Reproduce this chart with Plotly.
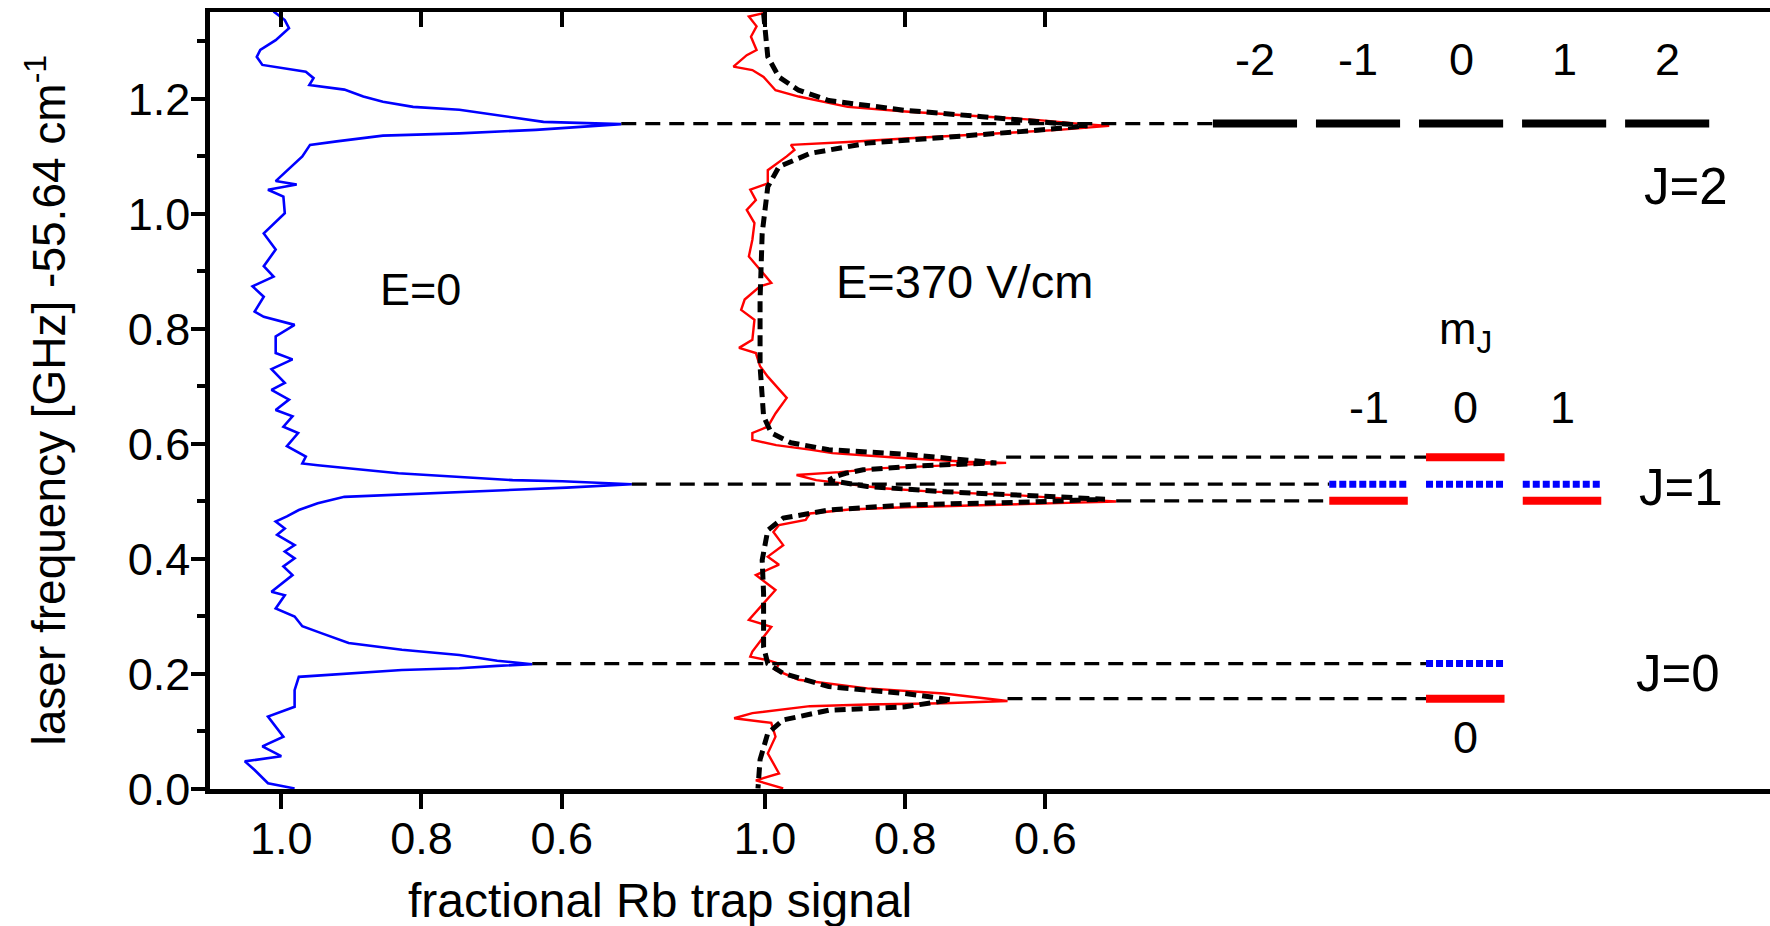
import plotly.graph_objects as go

# ---- measured traces: laser frequency (GHz above 55.64 cm^-1) vs fractional Rb trap signal ----
# E = 0
blue_ghz = [1.352, 1.337, 1.323, 1.302, 1.285, 1.273, 1.259, 1.253, 1.247, 1.236, 1.224, 1.216,
            1.204, 1.195, 1.186, 1.181, 1.169, 1.160, 1.156, 1.146, 1.140, 1.136, 1.126, 1.120,
            1.100, 1.088, 1.071, 1.057, 1.051, 1.042, 1.030, 1.001, 0.966, 0.938, 0.909, 0.891,
            0.874, 0.856, 0.830, 0.821, 0.807, 0.787, 0.758, 0.747, 0.730, 0.706, 0.694, 0.677,
            0.659, 0.648, 0.630, 0.619, 0.596, 0.578, 0.566, 0.563, 0.549, 0.543, 0.537, 0.535,
            0.530, 0.524, 0.519, 0.514, 0.508, 0.497, 0.485, 0.474, 0.465, 0.453, 0.442, 0.424,
            0.413, 0.401, 0.387, 0.372, 0.343, 0.337, 0.314, 0.300, 0.283, 0.271, 0.254, 0.242,
            0.233, 0.223, 0.217, 0.214, 0.210, 0.207, 0.201, 0.195, 0.172, 0.143, 0.126, 0.091,
            0.074, 0.057, 0.048, 0.033, 0.010, 0.001]
blue_sig = [1.011, 0.995, 0.989, 1.008, 1.030, 1.035, 1.027, 0.997, 0.965, 0.954, 0.960, 0.910,
            0.883, 0.855, 0.812, 0.746, 0.675, 0.626, 0.515, 0.637, 0.746, 0.855, 0.921, 0.959,
            0.970, 0.981, 0.995, 1.008, 0.978, 1.019, 0.997, 0.995, 1.025, 1.008, 1.025, 1.011,
            1.041, 1.025, 1.038, 1.025, 0.981, 1.008, 1.008, 0.984, 1.014, 0.995, 1.014, 0.989,
            1.008, 0.984, 0.997, 0.976, 0.992, 0.965, 0.970, 0.948, 0.833, 0.746, 0.670, 0.599,
            0.500, 0.593, 0.692, 0.801, 0.910, 0.948, 0.975, 0.992, 1.008, 0.995, 1.006, 0.981,
            0.995, 0.981, 0.997, 0.984, 1.014, 0.995, 1.008, 0.981, 0.970, 0.943, 0.904, 0.828,
            0.746, 0.692, 0.642, 0.692, 0.746, 0.828, 0.910, 0.975, 0.981, 0.981, 1.019, 0.997,
            1.027, 1.000, 1.052, 1.038, 1.019, 0.981]

# E = 370 V/cm
red_ghz = [1.349, 1.343, 1.326, 1.308, 1.285, 1.276, 1.256, 1.250, 1.238, 1.215, 1.204, 1.186,
           1.178, 1.169, 1.163, 1.157, 1.153, 1.146, 1.139, 1.131, 1.125, 1.120, 1.111, 1.100,
           1.076, 1.053, 1.042, 1.024, 1.007, 0.984, 0.955, 0.926, 0.880, 0.874, 0.851, 0.833,
           0.816, 0.781, 0.767, 0.758, 0.735, 0.717, 0.680, 0.653, 0.630, 0.619, 0.607, 0.598,
           0.590, 0.584, 0.576, 0.569, 0.567, 0.563, 0.558, 0.551, 0.546, 0.537, 0.523, 0.517,
           0.511, 0.504, 0.500, 0.497, 0.494, 0.490, 0.486, 0.479, 0.468, 0.459, 0.447, 0.424,
           0.404, 0.390, 0.372, 0.346, 0.294, 0.282, 0.239, 0.230, 0.224, 0.218, 0.207, 0.190,
           0.175, 0.166, 0.153, 0.149, 0.147, 0.144, 0.132, 0.123, 0.115, 0.091, 0.062, 0.027,
           0.015, 0.001]
red_sig = [1.002, 1.023, 1.012, 1.020, 1.012, 1.026, 1.045, 1.018, 1.002, 0.985, 0.952, 0.882,
           0.800, 0.690, 0.609, 0.554, 0.509, 0.581, 0.690, 0.800, 0.882, 0.963, 0.958, 0.969,
           0.996, 0.996, 1.021, 1.013, 1.026, 1.015, 1.018, 1.023, 0.991, 1.007, 1.029, 1.034,
           1.015, 1.018, 1.037, 1.013, 1.007, 0.996, 0.969, 0.985, 0.996, 1.018, 1.018, 0.984,
           0.936, 0.904, 0.810, 0.713, 0.656, 0.737, 0.832, 0.894, 0.955, 0.927, 0.832, 0.761,
           0.642, 0.560, 0.499, 0.582, 0.690, 0.800, 0.880, 0.936, 0.942, 0.980, 0.988, 0.974,
           0.996, 0.980, 1.013, 0.985, 1.023, 0.991, 1.018, 1.021, 0.996, 0.980, 0.985, 0.952,
           0.854, 0.745, 0.654, 0.745, 0.854, 0.936, 1.018, 1.044, 0.991, 0.985, 0.996, 0.980,
           1.013, 0.974]

# Lorentzian fit to the E = 370 V/cm spectrum
fit_ghz = [1.349, 1.314, 1.273, 1.238, 1.215, 1.197, 1.180, 1.169, 1.160, 1.153, 1.143, 1.134,
           1.123, 1.105, 1.082, 1.047, 0.966, 0.851, 0.735, 0.648, 0.619, 0.602, 0.590, 0.582,
           0.574, 0.567, 0.562, 0.555, 0.549, 0.543, 0.537, 0.526, 0.517, 0.511, 0.504, 0.499,
           0.494, 0.485, 0.471, 0.450, 0.398, 0.340, 0.247, 0.218, 0.201, 0.178, 0.166, 0.155,
           0.143, 0.137, 0.120, 0.097, 0.051, 0.001]
fit_sig = [1.002, 1.000, 0.996, 0.980, 0.952, 0.909, 0.800, 0.690, 0.609, 0.540, 0.636, 0.745,
           0.854, 0.936, 0.980, 0.996, 1.004, 1.007, 1.007, 1.002, 0.991, 0.963, 0.909, 0.800,
           0.720, 0.670, 0.780, 0.860, 0.885, 0.900, 0.909, 0.854, 0.745, 0.636, 0.515, 0.620,
           0.800, 0.909, 0.974, 0.996, 1.004, 1.002, 1.002, 0.996, 0.974, 0.909, 0.800, 0.734,
           0.800, 0.909, 0.974, 0.996, 1.007, 1.010]

# ---- energy levels (GHz) ----
j2_mj = [-2, -1, 0, 1, 2]
j2_ghz = [1.157, 1.157, 1.157, 1.157, 1.157]
j1_mj = [-1, 0, 1]
j1_e0_ghz = [0.530, 0.530, 0.530]
j1_e370_ghz = [0.501, 0.577, 0.501]
j0_mj = [0]
j0_e0_ghz = [0.218]
j0_e370_ghz = [0.157]

freq_ticks = [0.0, 0.2, 0.4, 0.6, 0.8, 1.0, 1.2]
signal_ticks = [1.0, 0.8, 0.6]

# ---- horizontal layout of the composite x axis ----
E370_OFFSET = 0.69          # shift of the E = 370 V/cm panel
J2_X0, J2_STEP, J2_HW = 1.683, 0.147, 0.060
J1_X0, J1_STEP, J1_HW = 1.689, 0.138, 0.056


def pos_e0(s):
    return 1.0 - s


def pos_e370(s):
    return E370_OFFSET + 1.0 - s


def lvl_x(mj, x0, step):
    return x0 + mj * step


FONT = "Arial, Liberation Sans, sans-serif"
BLUE = "#0000ff"
RED = "#ff0000"

fig = go.Figure()

fig.add_trace(go.Scatter(x=[pos_e0(s) for s in blue_sig], y=blue_ghz, mode="lines",
                         line=dict(color=BLUE, width=2.6), hoverinfo="skip"))
fig.add_trace(go.Scatter(x=[pos_e370(s) for s in red_sig], y=red_ghz, mode="lines",
                         line=dict(color=RED, width=2.4), hoverinfo="skip"))
fig.add_trace(go.Scatter(x=[pos_e370(s) for s in fit_sig], y=fit_ghz, mode="lines",
                         line=dict(color="black", width=5, dash="11px,6px"), hoverinfo="skip"))


def tip(ghz_list, sig_list, near, window=0.03):
    cand = [s for g, s in zip(ghz_list, sig_list) if abs(g - near) <= window]
    return min(cand)


# connectors from resonance peaks to the corresponding sublevels
conn = [
    (j2_ghz[0], pos_e0(tip(blue_ghz, blue_sig, j2_ghz[0])), lvl_x(-2, J2_X0, J2_STEP) - J2_HW),
    (j1_e370_ghz[1], pos_e370(tip(red_ghz, red_sig, j1_e370_ghz[1], 0.015)), lvl_x(0, J1_X0, J1_STEP) - J1_HW),
    (j1_e0_ghz[0], pos_e0(tip(blue_ghz, blue_sig, j1_e0_ghz[0])), lvl_x(-1, J1_X0, J1_STEP) - J1_HW),
    (j1_e370_ghz[0], pos_e370(tip(red_ghz, red_sig, j1_e370_ghz[0], 0.015)), lvl_x(-1, J1_X0, J1_STEP) - J1_HW),
    (j0_e0_ghz[0], pos_e0(tip(blue_ghz, blue_sig, j0_e0_ghz[0])), lvl_x(0, J1_X0, J1_STEP) - J1_HW),
    (j0_e370_ghz[0], pos_e370(tip(red_ghz, red_sig, j0_e370_ghz[0])), lvl_x(0, J1_X0, J1_STEP) - J1_HW),
]
cx, cy = [], []
for g, x0, x1 in conn:
    cx += [x0, x1, None]
    cy += [g, g, None]
fig.add_trace(go.Scatter(x=cx, y=cy, mode="lines",
                         line=dict(color="black", width=3.2, dash="15px,9px"), hoverinfo="skip"))


def level_trace(mjs, ghzs, x0, step, hw, color, width, dash):
    xs, ys = [], []
    for m, g in zip(mjs, ghzs):
        c = lvl_x(m, x0, step)
        xs += [c - hw, c + hw, None]
        ys += [g, g, None]
    return go.Scatter(x=xs, y=ys, mode="lines", hoverinfo="skip",
                      line=dict(color=color, width=width, dash=dash))


fig.add_trace(level_trace(j2_mj, j2_ghz, J2_X0, J2_STEP, J2_HW, "black", 8, "solid"))
fig.add_trace(level_trace(j1_mj, j1_e0_ghz, J1_X0, J1_STEP, J1_HW, BLUE, 7, "7px,3px"))
fig.add_trace(level_trace(j1_mj, j1_e370_ghz, J1_X0, J1_STEP, J1_HW, RED, 8, "solid"))
fig.add_trace(level_trace(j0_mj, j0_e0_ghz, J1_X0, J1_STEP, J1_HW, BLUE, 7, "7px,3px"))
fig.add_trace(level_trace(j0_mj, j0_e370_ghz, J1_X0, J1_STEP, J1_HW, RED, 8, "solid"))

ann = []


def label(text, x, y, size, **kw):
    d = dict(text=text, x=x, y=y, xref="x", yref="y", showarrow=False,
             font=dict(family=FONT, size=size, color="black"),
             xanchor="center", yanchor="middle")
    d.update(kw)
    ann.append(d)


label("E=0", 0.199, 0.868, 45)
label("E=370 V/cm", 0.974, 0.882, 47)
for m in j2_mj:
    label(str(m), lvl_x(m, J2_X0, J2_STEP), 1.268, 45)
for m in j1_mj:
    label(str(m), lvl_x(m, J1_X0, J1_STEP), 0.663, 45)
label("m<sub>J</sub>", lvl_x(0, J1_X0, J1_STEP), 0.795, 45)
label(str(j0_mj[0]), lvl_x(0, J1_X0, J1_STEP), 0.090, 45)
label("J=2", 2.004, 1.047, 51)
label("J=1", 1.997, 0.525, 51)
label("J=0", 1.993, 0.200, 51)

# axis titles
ann.append(dict(text="fractional Rb trap signal", x=0.54, y=0, xref="x", yref="paper",
                showarrow=False, xanchor="center", yanchor="middle", yshift=-111,
                font=dict(family=FONT, size=48, color="black")))
ann.append(dict(text="laser frequency [GHz] -55.64 cm<sup>-1</sup>", x=0, y=0.5,
                xref="paper", yref="paper", showarrow=False, textangle=-90,
                xanchor="center", yanchor="middle", xshift=-165,
                font=dict(family=FONT, size=46, color="black")))

tickpos = [pos_e0(s) for s in signal_ticks] + [pos_e370(s) for s in signal_ticks]
ticktxt = [f"{s:.1f}" for s in signal_ticks] * 2

fig.update_layout(
    width=1770, height=926,
    margin=dict(l=210, r=0, t=12, b=137),
    paper_bgcolor="white", plot_bgcolor="white",
    showlegend=False,
    annotations=ann,
    xaxis=dict(range=[-0.1017, 2.1237], tickmode="array", tickvals=tickpos, ticktext=ticktxt,
               ticks="outside", ticklen=15, tickwidth=4, tickcolor="black",
               ticklabelstandoff=-9,
               showline=True, linewidth=4.5, linecolor="black", showgrid=False, zeroline=False,
               tickfont=dict(family=FONT, size=45, color="black")),
    xaxis2=dict(overlaying="x", side="top", matches="x", anchor="y", tickmode="array",
                tickvals=tickpos, ticks="inside", ticklen=15, tickwidth=4, tickcolor="black",
                showticklabels=False, showline=True, linewidth=3.5, linecolor="black",
                showgrid=False, zeroline=False),
    yaxis=dict(range=[0, 1.351], tickmode="array", tickvals=freq_ticks,
               ticktext=[f"{v:.1f}" for v in freq_ticks],
               ticks="outside", ticklen=14, tickwidth=4, tickcolor="black",
               ticklabelstandoff=-8,
               minor=dict(tickvals=[0.1, 0.3, 0.5, 0.7, 0.9, 1.1, 1.3], ticks="outside",
                          ticklen=8, tickwidth=3.5, tickcolor="black"),
               showline=True, linewidth=4.5, linecolor="black", showgrid=False, zeroline=False,
               tickfont=dict(family=FONT, size=45, color="black")),
)
# anchor trace for the top axis so it is drawn
fig.add_trace(go.Scatter(x=[None], y=[None], xaxis="x2", yaxis="y", showlegend=False))

fig.write_html("out.html")
